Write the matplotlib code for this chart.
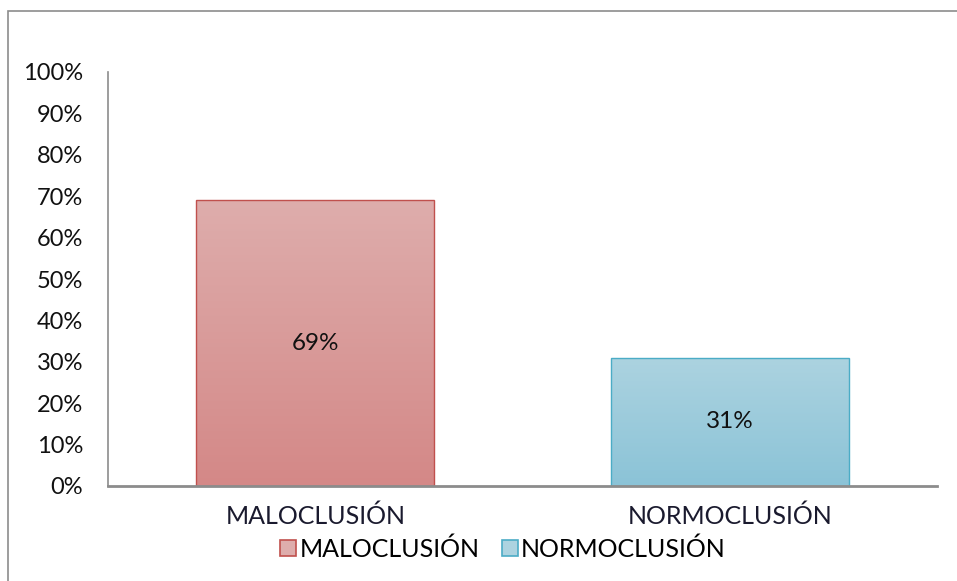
"""
Bar chart: MALOCLUSIÓN vs NORMOCLUSIÓN (Excel-style, gradient bars).

Output: out.png (957 x 581)
"""

import numpy as np
import matplotlib
matplotlib.use("Agg")
import matplotlib.pyplot as plt
from matplotlib.patches import Rectangle
from matplotlib.colors import LinearSegmentedColormap
from matplotlib.ticker import FuncFormatter

# Data
categories = ["MALOCLUSIÓN", "NORMOCLUSIÓN"]
values = [0.69, 0.31]
value_labels = ["69%", "31%"]
y_ticks = [0.0, 0.1, 0.2, 0.3, 0.4, 0.5, 0.6, 0.7, 0.8, 0.9, 1.0]

# Styles: (top colour, bottom colour, edge colour)
bar_styles = [
    ("#deadac", "#d48887", "#c0504d"),
    ("#acd3e0", "#8bc3d7", "#4bacc6"),
]

plt.rcParams["font.family"] = ["Lato", "DejaVu Sans"]

W, H, DPI = 957, 581, 100
fig = plt.figure(figsize=(W / DPI, H / DPI), dpi=DPI)

# outer chart border (only left/top edges fall inside the picture)
fig.patches.append(Rectangle((8 / W, -0.1), 2.0, 1.1 - 11 / H,
                             transform=fig.transFigure, fill=False,
                             edgecolor="#8c8c8c", linewidth=1.2))

ax = fig.add_axes([108 / W, 1 - 486 / H, (937 - 108) / W, (486 - 72) / H])

x = np.arange(len(categories))
bar_width = 0.573
bars = ax.bar(x, values, width=bar_width, facecolor="none", linewidth=1.0)

for bar, (top_c, bot_c, edge_c), label in zip(bars, bar_styles, value_labels):
    bar.set_edgecolor(edge_c)
    bar.set_zorder(3)
    cmap = LinearSegmentedColormap.from_list("g", [bot_c, top_c])
    x0, y0 = bar.get_x(), bar.get_y()
    w, h = bar.get_width(), bar.get_height()
    grad = np.linspace(0, 1, 256).reshape(-1, 1)
    im = ax.imshow(grad, cmap=cmap, origin="lower", aspect="auto",
                   extent=[x0, x0 + w, y0, y0 + h], zorder=2)
    im.set_clip_path(bar)
    ax.text(x0 + w / 2, y0 + h / 2, label, ha="center", va="center",
            fontsize=17.5, color="#111111", zorder=4)

ax.set_xlim(-0.5, len(categories) - 0.5)
ax.set_ylim(0, 1)
ax.set_yticks(y_ticks)
ax.yaxis.set_major_formatter(FuncFormatter(lambda v, _: f"{v:.0%}"))
ax.set_xticks(x)
ax.set_xticklabels(categories)

ax.tick_params(axis="y", length=0, pad=18, labelsize=17, labelcolor="#111111")
ax.tick_params(axis="x", length=0, pad=13, labelsize=18, labelcolor="#1a1a2e")

for side in ["top", "right"]:
    ax.spines[side].set_visible(False)
ax.spines["left"].set_color("#8c8c8c")
ax.spines["left"].set_linewidth(1.2)
ax.spines["bottom"].set_color("#8c8c8c")
ax.spines["bottom"].set_linewidth(2.0)
ax.spines["bottom"].set_zorder(5)

# legend with small bordered squares
handles = [Rectangle((0, 0), 1, 1, facecolor=top, edgecolor=edge, linewidth=1.2)
           for top, _, edge in bar_styles]
fig.legend(handles, categories, loc="center", bbox_to_anchor=(503 / W, 1 - 549 / H),
           ncol=2, frameon=False, fontsize=18, handlelength=0.64, handleheight=0.64,
           handletextpad=0.12, columnspacing=0.9, borderaxespad=0, borderpad=0)

fig.savefig("out.png", dpi=DPI)
plt.close(fig)
